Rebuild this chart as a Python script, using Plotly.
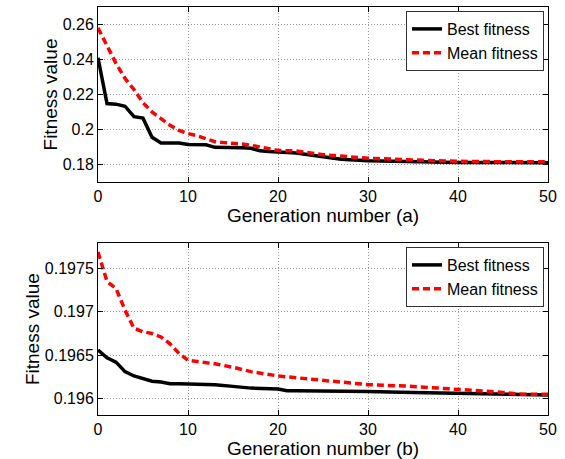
import plotly.graph_objects as go

gen_a = [0, 1, 2, 3, 4, 5, 6, 7, 8, 9, 10, 11, 12, 13, 14, 15, 16, 17, 18, 19, 20, 22, 24, 25, 27, 30, 35, 40, 45, 50]
best_a = [0.241, 0.2148, 0.2145, 0.2133, 0.2073, 0.2065, 0.1956, 0.1923, 0.1923, 0.1923, 0.1915, 0.1915, 0.1913, 0.1898, 0.1898, 0.1897, 0.1896, 0.1893, 0.1878, 0.1874, 0.1872, 0.1866, 0.1852, 0.1846, 0.1830, 0.1822, 0.1816, 0.1812, 0.1811, 0.1810]
mean_a = [0.258, 0.2474, 0.2378, 0.2292, 0.2228, 0.2153, 0.2100, 0.2062, 0.2024, 0.1995, 0.1977, 0.1965, 0.1948, 0.1930, 0.1925, 0.1922, 0.1917, 0.1910, 0.1900, 0.1885, 0.1880, 0.1878, 0.1862, 0.1856, 0.1848, 0.1836, 0.1826, 0.1818, 0.1816, 0.1815]

gen_b = [0, 1, 2, 3, 4, 5, 6, 7, 8, 9, 10, 11, 12, 13, 15, 17, 20, 21, 22, 24, 25, 30, 35, 40, 45, 47, 50]
best_b = [0.19656, 0.19647, 0.19642, 0.19631, 0.19626, 0.19623, 0.19620, 0.19619, 0.19617, 0.19617, 0.19617, 0.19617, 0.19617, 0.19616, 0.19614, 0.19612, 0.19611, 0.19609, 0.19609, 0.19609, 0.19608, 0.19608, 0.19607, 0.19606, 0.19605, 0.19604, 0.19604]
mean_b = [0.19769, 0.19735, 0.19727, 0.19702, 0.19681, 0.19677, 0.19675, 0.19671, 0.19663, 0.19652, 0.19644, 0.19643, 0.19642, 0.19640, 0.19636, 0.19631, 0.19626, 0.19625, 0.19624, 0.19622, 0.19621, 0.19616, 0.19614, 0.19611, 0.19607, 0.19605, 0.19605]

x_ticks = [0, 10, 20, 30, 40, 50]
y_ticks_a = [0.18, 0.2, 0.22, 0.24, 0.26]
y_ticks_a_text = ["0.18", "0.2", "0.22", "0.24", "0.26"]
y_ticks_b = [0.196, 0.1965, 0.197, 0.1975]
y_ticks_b_text = ["0.196", "0.1965", "0.197", "0.1975"]

W, H = 565, 459
FONT = "Liberation Sans, Arial, sans-serif"

fig = go.Figure()
fig.add_trace(go.Scatter(x=gen_a, y=best_a, mode="lines", name="Best fitness",
                         line=dict(color="black", width=3.5), xaxis="x", yaxis="y", legend="legend"))
fig.add_trace(go.Scatter(x=gen_a, y=mean_a, mode="lines", name="Mean fitness",
                         line=dict(color="#ff0000", width=3.5, dash="7px,4px"), xaxis="x", yaxis="y", legend="legend"))
fig.add_trace(go.Scatter(x=gen_b, y=best_b, mode="lines", name="Best fitness",
                         line=dict(color="black", width=3.5), xaxis="x2", yaxis="y2", legend="legend2"))
fig.add_trace(go.Scatter(x=gen_b, y=mean_b, mode="lines", name="Mean fitness",
                         line=dict(color="#ff0000", width=3.5, dash="7px,4px"), xaxis="x2", yaxis="y2", legend="legend2"))

common = dict(showline=True, linecolor="black", linewidth=1, mirror="ticks", ticks="inside",
              ticklen=5, tickcolor="black", showgrid=True, gridcolor="#999", griddash="1px,2px",
              gridwidth=1, zeroline=False, automargin=False,
              tickfont=dict(family=FONT, size=16, color="black"))

TF = 19
xd = [98 / W, 548 / W]
fig.update_layout(
    width=W, height=H, margin=dict(l=0, r=0, t=0, b=0, autoexpand=False),
    paper_bgcolor="white", plot_bgcolor="white",
    font=dict(family=FONT, color="black"),
    xaxis=dict(domain=xd, anchor="y", range=[0, 50], tickvals=x_ticks,
               title=dict(text="Generation number (a)", font=dict(size=TF), standoff=3), **common),
    yaxis=dict(domain=[1 - 182 / H, 1 - 7 / H], anchor="x", range=[0.17, 0.27],
               tickvals=y_ticks_a, ticktext=y_ticks_a_text,
               title=dict(text="Fitness value", font=dict(size=TF), standoff=0), **common),
    xaxis2=dict(domain=xd, anchor="y2", range=[0, 50], tickvals=x_ticks,
                title=dict(text="Generation number (b)", font=dict(size=TF), standoff=0), **common),
    yaxis2=dict(domain=[1 - 415 / H, 1 - 243.3 / H], anchor="x2", range=[0.19581, 0.19779],
                tickvals=y_ticks_b, ticktext=y_ticks_b_text,
                title=dict(text="Fitness value", font=dict(size=TF), standoff=0), **common),
    legend=dict(x=544 / W, y=1 - 11 / H, xanchor="right", yanchor="top", bgcolor="white",
                bordercolor="#333", borderwidth=1, font=dict(family=FONT, size=16),
                tracegroupgap=0, itemwidth=30),
    legend2=dict(x=544 / W, y=1 - 247 / H, xanchor="right", yanchor="top", bgcolor="white",
                 bordercolor="#333", borderwidth=1, font=dict(family=FONT, size=16),
                 tracegroupgap=0, itemwidth=30),
)

fig.write_html("out.html")
